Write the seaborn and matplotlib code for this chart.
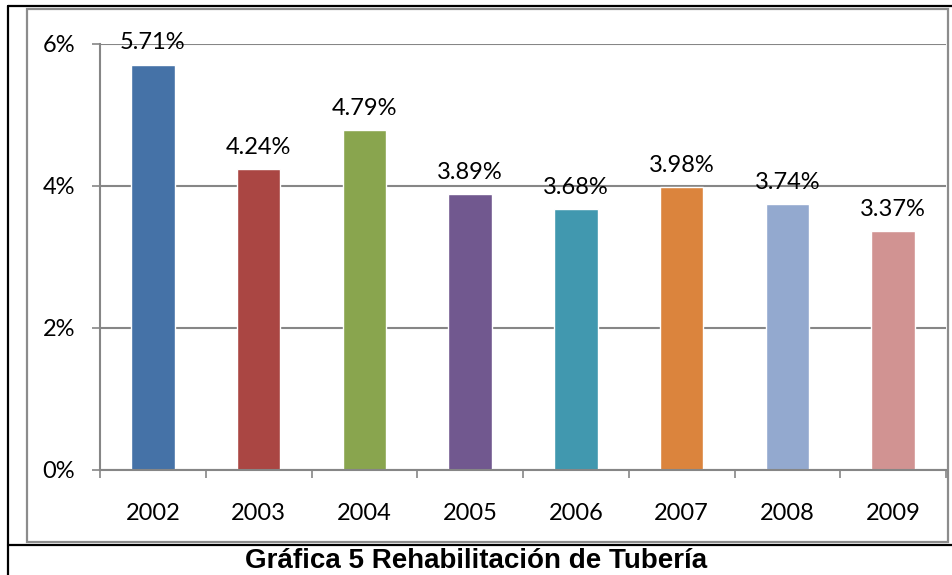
import numpy as np
import pandas as pd
import seaborn as sns
import matplotlib.pyplot as plt
from matplotlib.lines import Line2D
from matplotlib.patches import Rectangle

# Data ...........................................................................................
years = ["2002", "2003", "2004", "2005", "2006", "2007", "2008", "2009"]
rates = [5.71, 4.24, 4.79, 3.89, 3.68, 3.98, 3.74, 3.37]
bar_colors = ["#4572A7", "#AA4643", "#89A54E", "#71588F",
              "#4198AF", "#DB843D", "#93A9CF", "#D19392"]
y_ticks = [0, 2, 4, 6]
title = "Gráfica 5 Rehabilitación de Tubería"

df = pd.DataFrame({"year": years, "rate": rates})

# Figure ..........................................................................................
sns.set_style("white")
plt.rcParams['font.family'] = ['Lato', 'DejaVu Sans']
plt.rcParams['text.color'] = 'black'
plt.rcParams['xtick.labelcolor'] = 'black'
plt.rcParams['ytick.labelcolor'] = 'black'

W, H = 953, 575
fig = plt.figure(figsize=(W / 100, H / 100), dpi=100)

def px(x, y):
    return x / W, 1 - y / H

# Outer frame (table cell lines) and chart border
black = dict(color="black", lw=1.6, transform=fig.transFigure)
fig.add_artist(Line2D([px(8, 0)[0], 1], [px(0, 6)[1]] * 2, **black))
fig.add_artist(Line2D([px(8, 0)[0]] * 2, [0, px(0, 6)[1]], **black))
fig.add_artist(Line2D([px(8, 0)[0], 1], [px(0, 545)[1]] * 2, **black))
x0, y1 = px(27, 542)
x1, y0 = px(948, 9)
fig.add_artist(Rectangle((x0, y1), x1 - x0, y0 - y1, transform=fig.transFigure,
                         fill=False, ec="#8c8c8c", lw=1.6))

# Plot area
left, top = px(100, 44)
right, bottom = px(946, 470)
ax = fig.add_axes([left, bottom, right - left, top - bottom])

sns.barplot(data=df, x="year", y="rate", hue="year", palette=bar_colors,
            legend=False, width=0.41, saturation=1, ax=ax)

ax.set_ylim(0, 6)
ax.set_xlim(-0.5, len(years) - 0.5)
ax.set_yticks(y_ticks)
ax.set_yticklabels([f"{t}%" for t in y_ticks])
ax.set_xlabel("")
ax.set_ylabel("")
ax.grid(axis="y", color="#868686", lw=1.5)
ax.set_axisbelow(True)

for side in ["top", "right"]:
    ax.spines[side].set_visible(False)
for side in ["left", "bottom"]:
    ax.spines[side].set_color("#868686")
    ax.spines[side].set_linewidth(1.5)

ax.tick_params(axis="y", direction="out", length=6, width=1.2, color="#868686",
               pad=12, labelsize=17, left=True)
ax.tick_params(axis="x", which="major", length=0, pad=24, labelsize=17)
ax.set_xticks(np.arange(-0.5, len(years)), minor=True)
ax.tick_params(axis="x", which="minor", direction="out", length=6, width=1.2,
               color="#868686", bottom=True)

for container in ax.containers:
    ax.bar_label(container, fmt="%.2f%%", padding=8, fontsize=17)

fig.text(0.5, px(0, 561)[1], title, ha="center", va="center",
         fontsize=20, fontweight="bold", family="Liberation Sans")

fig.savefig("out.png", dpi=100)
